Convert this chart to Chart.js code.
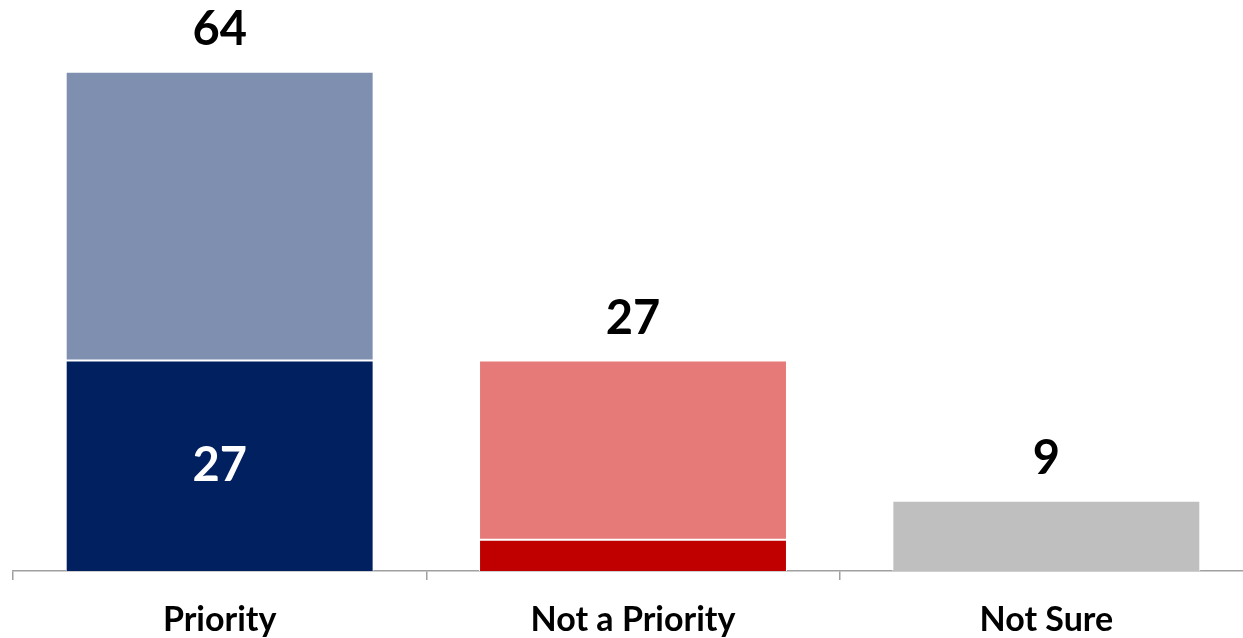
<!DOCTYPE html>
<html>
<head>
<meta charset="utf-8">
<script src="https://cdn.jsdelivr.net/npm/chart.js@4.4.1/dist/chart.umd.min.js"></script>
<style>
  html, body { margin: 0; padding: 0; background: #fff; overflow: hidden; }
  #wrap { width: 1256px; height: 638px; }
</style>
</head>
<body>
<div id="wrap"><canvas id="chart"></canvas></div>
<script>
const categories = ['Priority', 'Not a Priority', 'Not Sure'];
const strongValues = [27, 4, 9];
const softValues = [37, 23, null];
const strongColors = ['#002060', '#C00000', '#BFBFBF'];
const softColors = ['#7F8FB0', '#E67A78', '#BFBFBF'];
// which inner segments get a value label
const showInner = [true, false, false];

const FONT = 'Lato, "Open Sans", sans-serif';

const labelPlugin = {
  id: 'stackLabels',
  afterDatasetsDraw(chart) {
    const ctx = chart.ctx;
    const y = chart.scales.y;
    const m0 = chart.getDatasetMeta(0);
    ctx.save();
    ctx.textAlign = 'center';
    ctx.textBaseline = 'middle';
    ctx.font = 'bold 47px ' + FONT;
    categories.forEach((c, i) => {
      const total = (strongValues[i] || 0) + (softValues[i] || 0);
      const x = m0.data[i].x;
      ctx.fillStyle = '#000';
      ctx.fillText(String(total), x, y.getPixelForValue(total) - 42);
      if (showInner[i]) {
        ctx.fillStyle = '#fff';
        ctx.fillText(String(strongValues[i]), x, y.getPixelForValue(strongValues[i] / 2));
      }
    });
    ctx.restore();
  }
};

new Chart(document.getElementById('chart'), {
  type: 'bar',
  data: {
    labels: categories,
    datasets: [
      {
        data: strongValues,
        backgroundColor: strongColors,
        borderColor: '#fff',
        borderWidth: 1,
        borderSkipped: 'bottom',
        categoryPercentage: 1,
        barPercentage: 0.745
      },
      {
        data: softValues,
        backgroundColor: softColors,
        borderColor: '#fff',
        borderWidth: 1,
        borderSkipped: false,
        categoryPercentage: 1,
        barPercentage: 0.745
      }
    ]
  },
  options: {
    responsive: true,
    maintainAspectRatio: false,
    animation: false,
    layout: { padding: { top: 25, left: 13, right: 3, bottom: 0 } },
    plugins: {
      legend: { display: false },
      tooltip: { enabled: false }
    },
    scales: {
      x: {
        stacked: true,
        afterFit: (s) => { s.height = 67; },
        border: { color: '#A0A0A0', width: 1.5 },
        grid: { display: true, drawOnChartArea: false, offset: true, tickLength: 9, color: '#A0A0A0', lineWidth: 1.5 },
        ticks: { color: '#000', padding: 20, font: { family: FONT, size: 34, weight: 'bold' } }
      },
      y: {
        stacked: true,
        display: false,
        min: 0,
        max: 70
      }
    }
  },
  plugins: [labelPlugin]
});
</script>
</body>
</html>
